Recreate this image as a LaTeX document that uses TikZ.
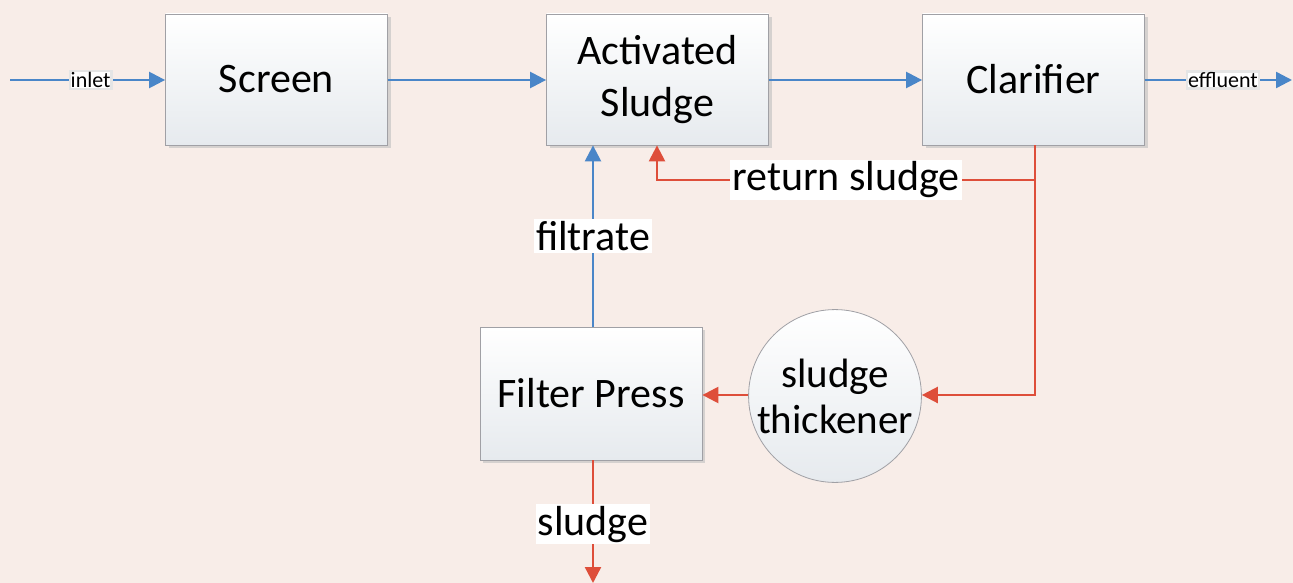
\documentclass[tikz,border=0pt]{standalone}
\usepackage{fontspec}
\setmainfont{Carlito}
\usetikzlibrary{arrows.meta,shadows,positioning}
\definecolor{bgc}{RGB}{248,237,232}
\definecolor{flowblue}{RGB}{74,134,200}
\definecolor{flowred}{RGB}{222,78,58}
\definecolor{boxline}{RGB}{160,160,165}
\definecolor{boxbot}{RGB}{230,234,238}
\tikzset{
  unit/.style={draw=boxline, line width=0.8pt, top color=white, bottom color=boxbot,
    minimum width=222pt, minimum height=131pt, font=\fontsize{42}{52}\selectfont, align=center,
    drop shadow={shadow xshift=3pt, shadow yshift=-3pt, fill=black!25, opacity=0.6}},
  tank/.style={circle, draw=boxline, line width=0.8pt, top color=white, bottom color=boxbot,
    minimum size=166pt, inner sep=0pt, font=\fontsize{41}{46}\selectfont, align=center},
  blueflow/.style={draw=flowblue, line width=2.4pt, -{Triangle[length=16pt,width=16pt]}},
  redflow/.style={draw=flowred, line width=2.4pt, -{Triangle[length=16pt,width=16pt]}},
  tag/.style={fill=white, inner sep=2pt, font=\fontsize{42}{46}\selectfont},
  smalltag/.style={fill=white, draw=black!10, inner sep=1pt, font=\fontsize{22}{24}\selectfont},
}
\begin{document}
\begin{tikzpicture}[x=1pt,y=-1pt]
  \fill[bgc] (0,0) rectangle (1293,583);
  \useasboundingbox (0,0) rectangle (1293,583);

  \node[unit] (screen) at (276.5,79.5) {Screen};
  \node[unit] (as) at (657.5,79.5) {Activated\\Sludge};
  \node[unit] (clar) at (1033.5,79.5) {Clarifier};
  \node[unit, minimum height=133pt] (fp) at (591,393.5) {Filter Press};
  \node[tank] (thick) at (835,396) {sludge\\thickener};

  \coordinate (in) at (10,80);
  \coordinate (out) at (1292,80);
  \coordinate (split) at (1035,180);
  \coordinate (bend) at (657,180);
  \coordinate (down) at (1035,395);
  \coordinate (sink) at (593,583);

  % main line
  \draw[blueflow] (in) -- node[smalltag, pos=0.52]{inlet} (screen.west |- in);
  \draw[blueflow] (screen.east |- in) -- (as.west |- in);
  \draw[blueflow] (as.east |- in) -- (clar.west |- in);
  \draw[blueflow] (clar.east |- out) -- node[smalltag, pos=0.53]{effluent} (out);

  % return sludge
  \draw[redflow] (clar.south -| split) -- (split) -- node[tag, pos=0.5]{return sludge} (bend) -- (as.south -| bend);

  % waste sludge to thickener
  \draw[redflow] (split) -- (down) -- (thick.east |- down);
  \draw[redflow] (thick.west |- down) -- (fp.east |- down);

  % filtrate back to aeration
  \draw[blueflow] (fp.north -| sink) -- node[tag]{filtrate} (as.south -| sink);

  % cake out
  \draw[redflow] (fp.south -| sink) -- node[tag, pos=0.52]{sludge} (sink);
\end{tikzpicture}
\end{document}
